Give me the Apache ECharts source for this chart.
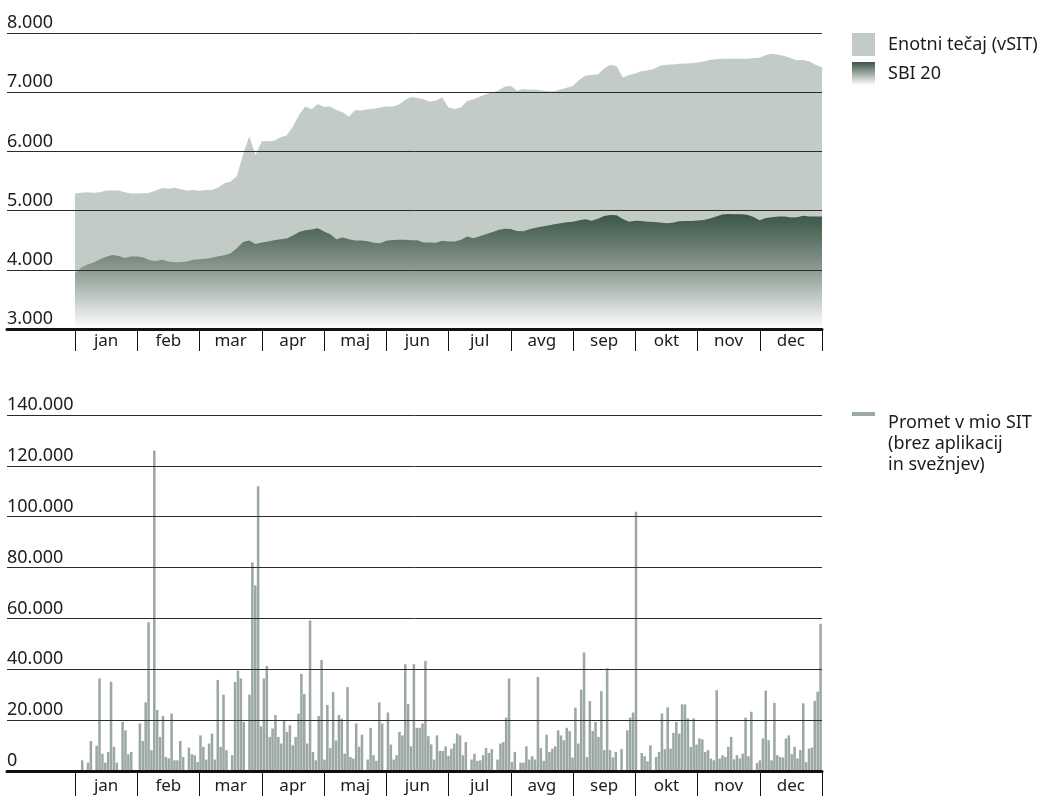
<!DOCTYPE html>
<html>
<head lang="sl">
	<meta charset="UTF-8">
	<title></title>
	<script type="text/javascript" src="https://cdn.jsdelivr.net/npm/echarts/dist/echarts.min.js"></script>
	<style>
		html, body { margin: 0; padding: 0; background: #fff; }
		#chart { width: 1043px; height: 796px; }
	</style>
</head>
<body>
<div id="chart"></div>
<script>
var months = ['jan', 'feb', 'mar', 'apr', 'maj', 'jun', 'jul', 'avg', 'sep', 'okt', 'nov', 'dec'];

// tecaji: 10 odcitkov na mesec (od zacetka jan do konca dec)
var enotni = [
	5290, 5300, 5310, 5300, 5310, 5340, 5340, 5340, 5310, 5290,
	5290, 5295, 5300, 5340, 5380, 5370, 5385, 5360, 5340, 5348,
	5337, 5348, 5350, 5390, 5460, 5490, 5580, 5950, 6250, 5940,
	6170, 6170, 6180, 6240, 6270, 6420, 6620, 6760, 6710, 6800,
	6750, 6760, 6700, 6660, 6585, 6700, 6690, 6710, 6720, 6740,
	6760, 6760, 6790, 6870, 6920, 6900, 6880, 6840, 6860, 6910,
	6740, 6715, 6740, 6850, 6880, 6925, 6966, 6995, 7030, 7090,
	7110, 7025, 7055, 7040, 7045, 7030, 7017, 7017, 7045, 7075,
	7110, 7205, 7280, 7290, 7300, 7400, 7465, 7440, 7250, 7292,
	7315, 7355, 7370, 7390, 7450, 7465, 7470, 7480, 7483, 7490,
	7500, 7520, 7545, 7555, 7565, 7567, 7567, 7567, 7567, 7578,
	7584, 7630, 7650, 7632, 7610, 7575, 7540, 7545, 7520, 7460,
	7420
];
var sbi20 = [
	3940, 4035, 4090, 4124, 4180, 4220, 4250, 4235, 4200, 4225,
	4225, 4208, 4160, 4150, 4169, 4140, 4129, 4129, 4140, 4169,
	4180, 4185, 4205, 4230, 4245, 4280, 4365, 4470, 4495, 4435,
	4461, 4480, 4500, 4515, 4530, 4580, 4640, 4667, 4680, 4700,
	4645, 4600, 4515, 4545, 4515, 4495, 4495, 4483, 4458, 4450,
	4490, 4505, 4506, 4506, 4498, 4500, 4461, 4460, 4455, 4490,
	4478, 4480, 4508, 4562, 4535, 4568, 4600, 4635, 4672, 4695,
	4690, 4655, 4650, 4685, 4710, 4733, 4750, 4770, 4787, 4802,
	4813, 4838, 4855, 4830, 4862, 4910, 4927, 4920, 4860, 4810,
	4827, 4823, 4812, 4808, 4797, 4787, 4795, 4818, 4826, 4826,
	4831, 4842, 4868, 4902, 4935, 4944, 4940, 4938, 4928, 4893,
	4835, 4875, 4888, 4899, 4899, 4882, 4888, 4912, 4900, 4899,
	4899
];

// dnevni promet v mio SIT, po mesecih (delovni dnevi, 0 = ni trgovanja)
var prometJan = [0, 0, 4200, 0, 3300, 11800, 0, 9900, 36400, 6800, 3300, 7500, 35100, 9500, 3300, 0, 19300, 16000, 6600, 7500, 0, 0];
var prometFeb = [18700, 11800, 27000, 58500, 8200, 126000, 24000, 13400, 21700, 5500, 5000, 22600, 4200, 4200, 11800, 5500, 0, 9200, 6600, 6200, 3500, 14000];
var prometMar = [9500, 4500, 10800, 14700, 4500, 35800, 9500, 30000, 8200, 0, 6200, 35000, 39500, 36400, 19300, 0, 30000, 82000, 73000, 112000, 17600];
var prometApr = [36400, 41300, 13400, 16700, 22000, 13400, 10800, 20000, 15400, 18000, 10100, 13400, 22600, 38200, 30300, 10800, 59200, 7500, 4200, 21600, 43700, 4500];
var prometMaj = [26000, 9000, 31000, 12000, 22000, 20600, 6800, 33000, 5500, 4900, 18700, 9500, 14300, 0, 4500, 17000, 6200, 4000, 27000, 18700, 0];
var prometJun = [23000, 10400, 4500, 6200, 15400, 14000, 42000, 26300, 9700, 42000, 17000, 17000, 18700, 43300, 13700, 10500, 4500, 14000, 7900, 7900, 9700, 6000];
var prometJul = [8800, 10800, 14700, 14000, 6200, 11400, 0, 4500, 6800, 4000, 4200, 6200, 9000, 7100, 8600, 0, 4500, 10800, 11400, 21000, 36400, 3500];
var prometAvg = [7500, 0, 3300, 3300, 9700, 4500, 5800, 4500, 37000, 9000, 4000, 14300, 7500, 8800, 9700, 16000, 14000, 12100, 17000, 15700, 5300];
var prometSep = [24900, 10800, 32000, 46600, 5500, 27500, 15700, 19300, 13400, 31400, 8200, 40400, 8200, 5300, 7500, 0, 8600, 0, 16000, 21000, 23000, 102000];
var prometOkt = [0, 7100, 5800, 3800, 10100, 0, 5500, 7500, 22600, 8600, 25000, 8800, 15000, 19300, 14700, 26200, 26200, 20700, 9500, 20700, 10400];
var prometNov = [12800, 12400, 7500, 8200, 4900, 4200, 31800, 4900, 6200, 5500, 9500, 13400, 4600, 6200, 4900, 6800, 21000, 5800, 23300, 0, 3200, 4200];
var prometDec = [12800, 31600, 12100, 4200, 26800, 6200, 5500, 5300, 12800, 14000, 6600, 9500, 4900, 8200, 26600, 3500, 8800, 9200, 27600, 31200, 57900];

var topTicks = [3000, 4000, 5000, 6000, 7000, 8000];
var bottomTicks = [0, 20000, 40000, 60000, 80000, 100000, 120000, 140000];

var txtColor = '#1c1c1c';
var lineColor = '#2b2b2b';
var font = '"Noto Sans", "Open Sans", sans-serif';

function fmt(v) {
	return String(v).replace(/\B(?=(\d{3})+(?!\d))/g, '.');
}

function drawChart() {
	var myChart = echarts.init(document.getElementById('chart'));

	var promet = [].concat(prometJan, prometFeb, prometMar, prometApr, prometMaj, prometJun,
		prometJul, prometAvg, prometSep, prometOkt, prometNov, prometDec);
	var days = promet.map(function (v, i) { return i; });
	var points = enotni.map(function (v, i) { return i; });

	var sbiFill = new echarts.graphic.LinearGradient(0, 0, 0, 1, [
		{offset: 0, color: '#3a5546'},
		{offset: 0.5, color: '#8e9d94'},
		{offset: 1, color: '#ffffff'}
	]);
	var legendSbi = new echarts.graphic.LinearGradient(0, 0, 0, 1, [
		{offset: 0, color: '#3a5546'},
		{offset: 1, color: '#ffffff'}
	]);

	function frameY(grid, ticks) {
		return {
			gridIndex: grid,
			type: 'value',
			min: ticks[0],
			max: ticks[ticks.length - 1],
			interval: ticks[1] - ticks[0],
			z: 5,
			axisLine: {show: false},
			axisTick: {show: false},
			splitLine: {show: true, lineStyle: {color: lineColor, width: 1}},
			axisLabel: {
				inside: true,
				margin: 0,
				verticalAlign: 'bottom',
				lineHeight: 20,
				fontFamily: font,
				fontSize: 18,
				color: txtColor,
				formatter: fmt
			}
		};
	}
	function hiddenY(grid, ticks) {
		return {gridIndex: grid, type: 'value', min: ticks[0], max: ticks[ticks.length - 1], show: false};
	}
	function frameX(grid) {
		return {
			gridIndex: grid, type: 'value', min: 0, max: 1, z: 5,
			axisLine: {show: true, lineStyle: {color: '#111', width: 3}},
			axisTick: {show: false}, axisLabel: {show: false}, splitLine: {show: false}
		};
	}
	function monthX(grid, margin, tickLen) {
		return {
			gridIndex: grid, type: 'category', data: months, boundaryGap: true, position: 'bottom',
			axisLine: {show: false},
			axisTick: {show: true, length: tickLen, lineStyle: {color: '#111', width: 1}},
			axisLabel: {margin: margin, fontFamily: font, fontSize: 17, color: txtColor, interval: 0},
			splitLine: {show: false}
		};
	}

	var option = {
		animation: false,
		backgroundColor: '#fff',
		grid: [
			{left: 7, right: 221, top: 33, height: 296, outerBoundsMode: 'none'},
			{left: 75, right: 221, top: 33, height: 296, outerBoundsMode: 'none'},
			{left: 7, right: 221, top: 415, height: 356, outerBoundsMode: 'none'},
			{left: 75, right: 221, top: 415, height: 356, outerBoundsMode: 'none'}
		],
		xAxis: [
			frameX(0),
			monthX(1, 4, 22),
			{gridIndex: 1, type: 'category', data: points, boundaryGap: false, show: false},
			frameX(2),
			monthX(3, 7, 30),
			{gridIndex: 3, type: 'category', data: days, boundaryGap: true, show: false}
		],
		yAxis: [
			frameY(0, topTicks),
			hiddenY(1, topTicks),
			frameY(2, bottomTicks),
			hiddenY(3, bottomTicks)
		],
		legend: [
			{
				left: 852, top: 33, padding: 0, orient: 'vertical',
				itemWidth: 23, itemHeight: 23, itemGap: 6, selectedMode: false,
				textStyle: {fontFamily: font, fontSize: 18, color: txtColor, padding: [0, 0, 0, 8]},
				data: [
					{name: 'Enotni tečaj (vSIT)', icon: 'rect', itemStyle: {color: '#c3cbc7', borderWidth: 0}},
					{name: 'SBI 20', icon: 'rect', itemStyle: {color: legendSbi, borderWidth: 0}}
				]
			},
			{
				left: 852, top: 412, padding: 0, orient: 'vertical',
				itemWidth: 23, itemHeight: 63, selectedMode: false,
				textStyle: {fontFamily: font, fontSize: 18, lineHeight: 21, color: txtColor, padding: [0, 0, 0, 8]},
				formatter: function () {
					return 'Promet v mio SIT\n(brez aplikacij\nin svežnjev)';
				},
				data: [
					{
						name: 'Promet v mio SIT (brez aplikacij in svežnjev)',
						icon: 'path://M0,0 L23,0 L23,4 L0,4 Z M0,63 L0.1,63 Z',
						itemStyle: {color: '#9ba9a2', borderWidth: 0}
					}
				]
			}
		],
		series: [
			{
				name: 'Enotni tečaj (vSIT)',
				type: 'line',
				xAxisIndex: 2,
				yAxisIndex: 1,
				data: enotni,
				symbol: 'none',
				color: '#c3cbc7',
				lineStyle: {width: 0, opacity: 0},
				areaStyle: {color: '#c3cbc7', opacity: 1, origin: 'start'},
				z: 2
			},
			{
				name: 'SBI 20',
				type: 'line',
				xAxisIndex: 2,
				yAxisIndex: 1,
				data: sbi20,
				symbol: 'none',
				color: '#3a5546',
				lineStyle: {width: 0, opacity: 0},
				areaStyle: {color: sbiFill, opacity: 1, origin: 'start'},
				z: 3
			},
			{
				name: 'Promet v mio SIT (brez aplikacij in svežnjev)',
				type: 'bar',
				xAxisIndex: 5,
				yAxisIndex: 3,
				data: promet,
				barCategoryGap: '12%',
				itemStyle: {color: '#9ba9a2'},
				z: 2
			}
		]
	};
	myChart.setOption(option);
}

drawChart();
</script>
</body>
</html>
